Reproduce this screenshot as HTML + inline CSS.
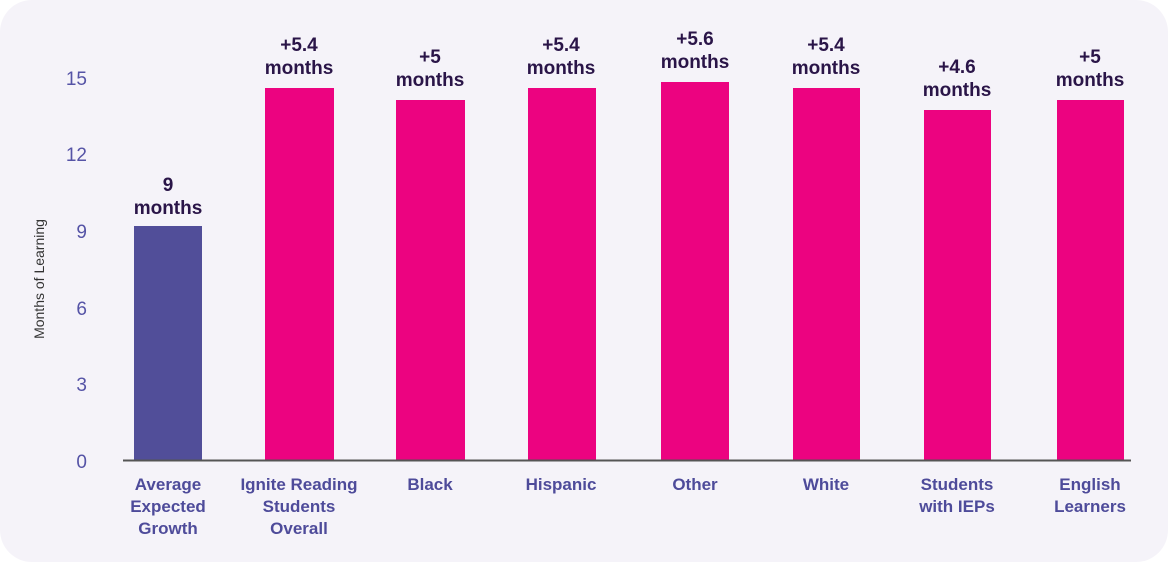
<!DOCTYPE html><html><head><style>
body{margin:0;background:#fff;width:1168px;height:562px;overflow:hidden}
</style></head><body>
<svg width="1168" height="562" xmlns="http://www.w3.org/2000/svg" font-family="Liberation Sans, sans-serif">
<rect x="0" y="0" width="1168" height="562" rx="32" fill="#f5f3f9"/>
<g fill="#5553a6" font-size="19" text-anchor="end">
<text x="87" y="468">0</text><text x="87" y="391">3</text><text x="87" y="315">6</text>
<text x="87" y="238">9</text><text x="87" y="161">12</text><text x="87" y="85">15</text>
</g>
<text transform="translate(44,279) rotate(-90)" text-anchor="middle" font-size="14" fill="#333">Months of Learning</text>
<rect x="134" y="226" width="68" height="235" fill="#514e99"/>
<g fill="#ec0380">
<rect x="265" y="88" width="69" height="373"/>
<rect x="396" y="100" width="69" height="361"/>
<rect x="528" y="88" width="68" height="373"/>
<rect x="661" y="82" width="68" height="379"/>
<rect x="793" y="88" width="67" height="373"/>
<rect x="924" y="110" width="67" height="351"/>
<rect x="1057" y="100" width="67" height="361"/>
</g>
<line x1="123" y1="460.5" x2="1131" y2="460.5" stroke="#555" stroke-width="2"/>
<g fill="#2a1548" font-size="19" font-weight="bold" text-anchor="middle">
<text x="168" y="191">9</text><text x="168" y="214">months</text>
<text x="299" y="51">+5.4</text><text x="299" y="74">months</text>
<text x="430" y="63">+5</text><text x="430" y="86">months</text>
<text x="561" y="51">+5.4</text><text x="561" y="74">months</text>
<text x="695" y="45">+5.6</text><text x="695" y="68">months</text>
<text x="826" y="51">+5.4</text><text x="826" y="74">months</text>
<text x="957" y="73">+4.6</text><text x="957" y="96">months</text>
<text x="1090" y="63">+5</text><text x="1090" y="86">months</text>
</g>
<g fill="#4e4b9a" font-size="17" font-weight="bold" text-anchor="middle">
<text x="168" y="490">Average</text><text x="168" y="512">Expected</text><text x="168" y="534">Growth</text>
<text x="299" y="490">Ignite Reading</text><text x="299" y="512">Students</text><text x="299" y="534">Overall</text>
<text x="430" y="490">Black</text>
<text x="561" y="490">Hispanic</text>
<text x="695" y="490">Other</text>
<text x="826" y="490">White</text>
<text x="957" y="490">Students</text><text x="957" y="512">with IEPs</text>
<text x="1090" y="490">English</text><text x="1090" y="512">Learners</text>
</g>
</svg>
</body></html>
